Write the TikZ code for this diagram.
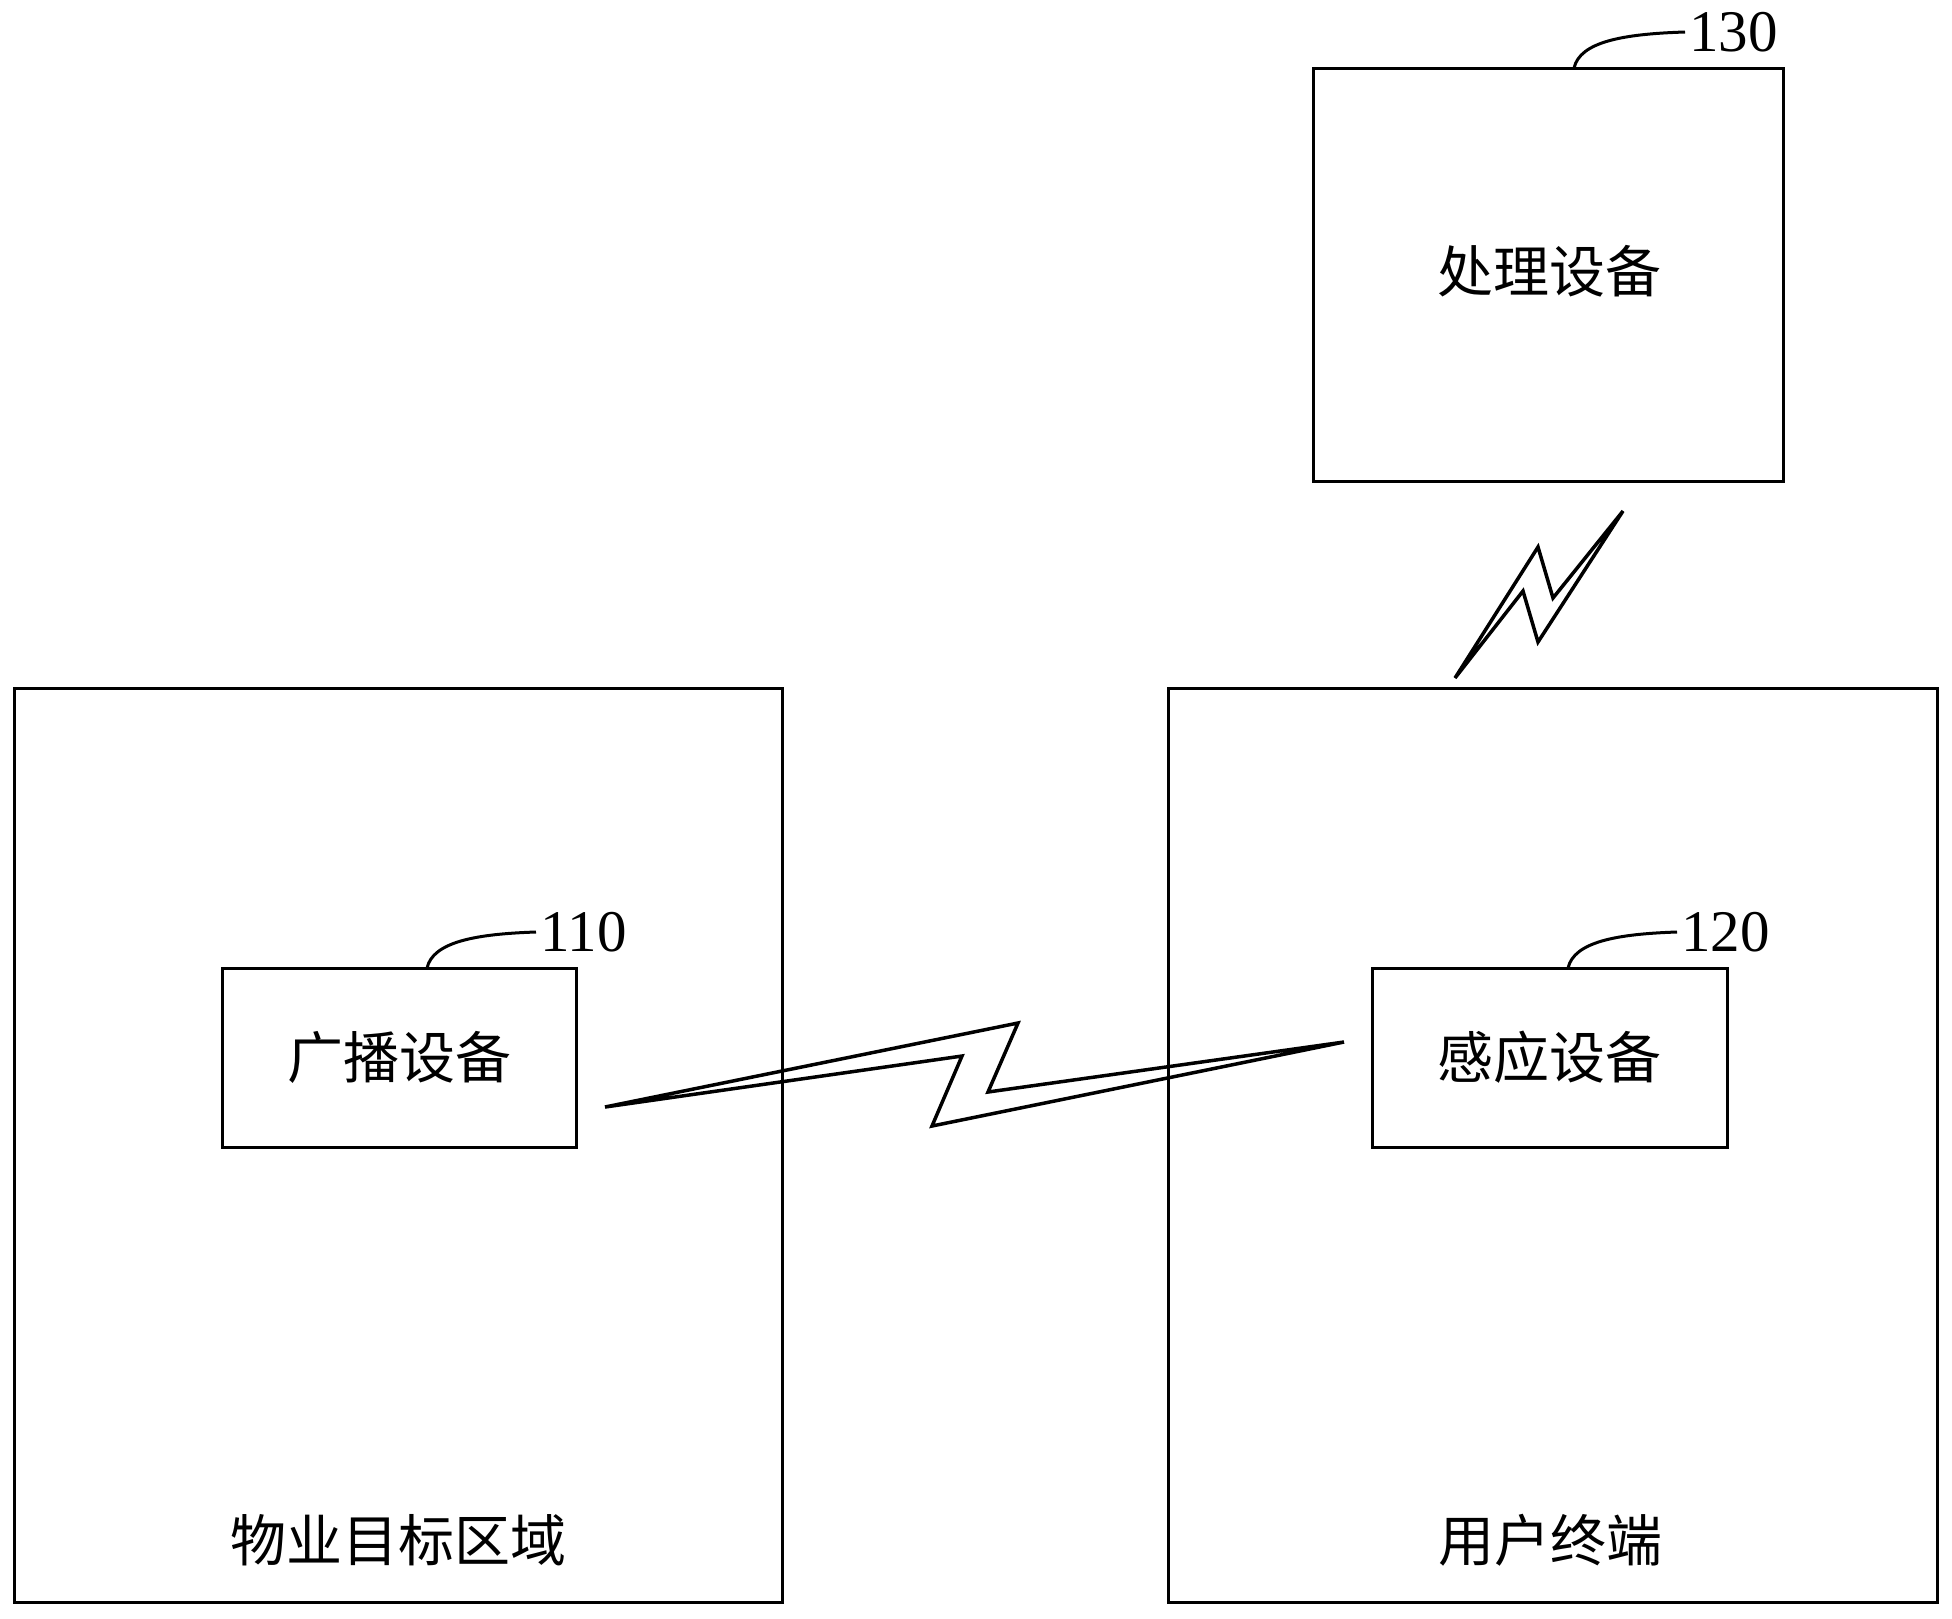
\documentclass[tikz,border=0pt]{standalone}
\usepackage{fontspec}
\setmainfont{Liberation Serif}
\newfontfamily\cjk{Noto Sans CJK SC}
\begin{document}
\begin{tikzpicture}[x=1pt,y=-1pt,
  box/.style={draw=black,line width=3pt,rectangle,inner sep=0pt},
  cjklabel/.style={font=\cjk\fontsize{56}{56}\selectfont,inner sep=0pt},
  numlabel/.style={font=\fontsize{59}{59}\selectfont,inner sep=0pt,anchor=west},
  leader/.style={line width=3pt},
  bolt/.style={line width=3.5pt,line join=miter}]
\useasboundingbox (0,0) rectangle (1952,1618);
% containers
\node[box,minimum width=768pt,minimum height=914pt] (area) at (398,1145) {};
\node[box,minimum width=769pt,minimum height=914pt] (term) at (1552.5,1145) {};
\node[box,minimum width=354pt,minimum height=179pt] (b110) at (399,1057.5) {};
\node[box,minimum width=355pt,minimum height=179pt] (b120) at (1549.5,1057.5) {};
\node[box,minimum width=470pt,minimum height=413pt] (b130) at (1548,274.5) {};
% texts
\node[cjklabel] (t110) at (399,1057) {广播设备};
\node[cjklabel] (t120) at (1549.5,1057) {感应设备};
\node[cjklabel] (t130) at (1549,271) {处理设备};
\node[cjklabel] (tarea) at (398,1540) {物业目标区域};
\node[cjklabel] (tterm) at (1550,1540) {用户终端};
% reference numbers
\node[numlabel] (n110) at (540,932) {110};
\node[numlabel] (n120) at (1681,932) {120};
\node[numlabel] (n130) at (1689,32) {130};
\coordinate (s110) at (427,968);
\coordinate (s120) at (1568,968);
\coordinate (s130) at (1574,68);
\draw[leader] (s110) .. controls (433,942) and (475,934) .. ([xshift=-4pt]n110.west);
\draw[leader] (s120) .. controls (1574,942) and (1616,934) .. ([xshift=-4pt]n120.west);
\draw[leader] (s130) .. controls (1580,42) and (1622,34) .. ([xshift=-4pt]n130.west);
% lightning bolts
\draw[bolt] (605,1107) -- (1018,1023) -- (988,1092) -- (1344,1042) -- (932,1126) -- (962,1056) -- cycle;
\draw[bolt] (1455,678) -- (1538,547) -- (1553,598) -- (1623,511) -- (1538,642) -- (1523,591) -- cycle;
\end{tikzpicture}
\end{document}
